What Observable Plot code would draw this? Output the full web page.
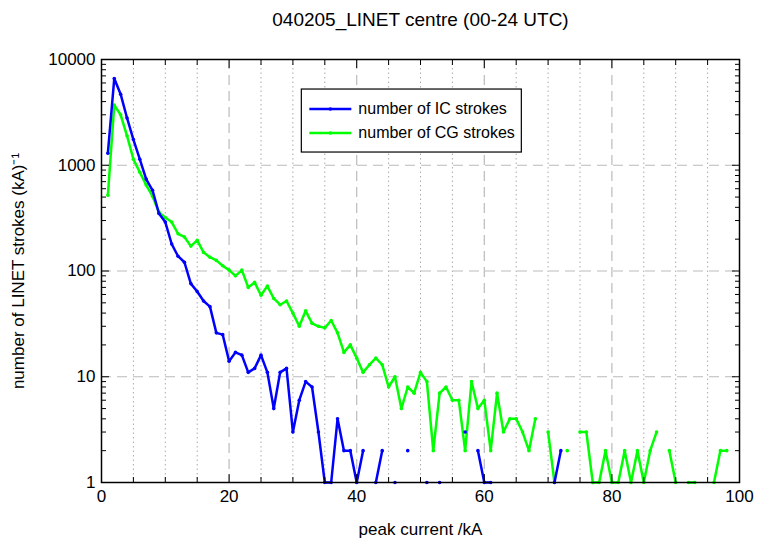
<!DOCTYPE html>
<html><head><meta charset="utf-8">
<script src="https://cdn.jsdelivr.net/npm/d3@7"></script>
<script src="https://cdn.jsdelivr.net/npm/@observablehq/plot@0.6"></script>
<style>
body{margin:0;background:#fff;font-family:"Liberation Sans",Arial,sans-serif;}
#title{height:40px;line-height:40px;text-align:center;font-size:19px;padding-left:84px;color:#000}
</style></head><body>
<div id="title">040205_LINET centre (00-24 UTC)</div>
<div id="chart"></div>
<script>
const current = d3.range(1, 99);
const icStrokes = [1300,6600,4700,2800,1750,1140,740,580,350,290,180,138,121,76,64,52,46,26,25,14,
17,16,11,12,16,11,5,11,12,3,6,9,8,3,1,1,4,2,2,1,
2,null,1,2,null,1,null,2,null,null,1,null,1,null,null,null,3,null,2,1,
1,null,null,null,null,null,null,null,null,null,1,2,null,null,null,null,null,null,null,null,
null,null,null,null,null,null,null,null,null,null,null,null,null,null,null,null,null,null];
const cgStrokes = [520,3700,3000,1900,1140,860,650,510,360,320,290,225,210,172,195,150,135,126,112,102,
90,102,70,78,59,72,55,48,52,40,30,42,32,30,29,34,26,17,20,15,
11,13,15,13,8,10,5,8,7,11,9,2,7,8,6,6,2,9,5,6,
2,7,3,4,4,3,2,4,null,3,1,null,2,null,3,3,1,1,2,1,
1,2,1,2,1,2,3,null,2,1,null,1,1,null,null,1,2,2];
const seriesNames = ["number of IC strokes", "number of CG strokes"];
const colors = ["#0000ff", "#00ff00"];

const rows = (vals) => current.map((x, i) => ({x, y: vals[i]}));
const ic = rows(icStrokes), cg = rows(cgStrokes);

const minorX = d3.range(5, 100, 5).filter(v => v % 20 !== 0);
const majorX = [20, 40, 60, 80];
const minorY = [];
for (const d of [1, 10, 100, 1000]) for (let k = 2; k <= 9; k++) minorY.push(d * k);
const majorY = [10, 100, 1000];
const xTicks = [0, 20, 40, 60, 80, 100];
const yTicks = [1, 10, 100, 1000, 10000];

const noText = {text: null, label: null};
const plot = Plot.plot({
  width: 757, height: 504,
  marginLeft: 101, marginRight: 18, marginTop: 19, marginBottom: 62,
  style: {fontFamily: "Liberation Sans, Arial, sans-serif", fontSize: "17px", color: "#000"},
  x: {domain: [0, 100]},
  y: {type: "log", domain: [1, 10000]},
  marks: [
    Plot.ruleX(minorX, {stroke: "#aaa", strokeDasharray: "1.5,3", strokeWidth: 1}),
    Plot.ruleX(majorX, {stroke: "#bbb", strokeDasharray: "10,6", strokeWidth: 1.2}),
    Plot.ruleY(majorY, {stroke: "#bbb", strokeDasharray: "10,6", strokeWidth: 1.2}),
    Plot.line(cg, {x: "x", y: "y", stroke: colors[1], strokeWidth: 2.5}),
    Plot.dot(cg.filter(d => d.y != null), {x: "x", y: "y", fill: colors[1], r: 1.8}),
    Plot.line(ic, {x: "x", y: "y", stroke: colors[0], strokeWidth: 2.5}),
    Plot.dot(ic.filter(d => d.y != null), {x: "x", y: "y", fill: colors[0], r: 1.8}),
    Plot.frame({stroke: "#000", strokeWidth: 1.5}),
    Plot.axisX({ticks: xTicks, tickSize: 0, tickPadding: 7, tickFormat: d3.format("d"), fontSize: 17, label: "peak current /kA", labelAnchor: "center", labelArrow: "none", labelOffset: 52}),
    Plot.axisX({ticks: xTicks, tickSize: -8, ...noText}),
    Plot.axisX({ticks: minorX, tickSize: -5, ...noText}),
    Plot.axisX({anchor: "top", ticks: xTicks, tickSize: -8, ...noText}),
    Plot.axisX({anchor: "top", ticks: minorX, tickSize: -5, ...noText}),
    Plot.axisY({ticks: yTicks, tickSize: 0, tickPadding: 6, tickFormat: d3.format("d"), fontSize: 17, label: "number of LINET strokes (kA)⁻¹", labelAnchor: "center", labelArrow: "none", labelOffset: 90}),
    Plot.axisY({ticks: yTicks, tickSize: -8, ...noText}),
    Plot.axisY({ticks: minorY, tickSize: -5, ...noText}),
    Plot.axisY({anchor: "right", ticks: yTicks, tickSize: -8, ...noText}),
    Plot.axisY({anchor: "right", ticks: minorY, tickSize: -5, ...noText})
  ]
});
document.getElementById("chart").appendChild(plot);

const svg = d3.select(plot);
const xs = plot.scale("x"), ys = plot.scale("y");
const lx = xs.apply(31.4), ly = ys.apply(5200);
const g = svg.append("g").attr("font-family", "Liberation Sans, Arial, sans-serif").attr("font-size", 16).attr("text-anchor", "start");
g.append("rect").attr("x", lx).attr("y", ly).attr("width", 220).attr("height", 63)
  .attr("fill", "#fff").attr("stroke", "#000").attr("stroke-width", 1.2);
seriesNames.forEach((n, i) => {
  const yy = ly + 20 + i * 24;
  g.append("line").attr("x1", lx + 8).attr("x2", lx + 50).attr("y1", yy).attr("y2", yy)
    .attr("stroke", colors[i]).attr("stroke-width", 2.5);
  g.append("circle").attr("cx", lx + 29).attr("cy", yy).attr("r", 1.8).attr("fill", colors[i]);
  g.append("text").attr("x", lx + 57).attr("y", yy + 5).attr("text-anchor", "start").text(n);
});
</script></body></html>
